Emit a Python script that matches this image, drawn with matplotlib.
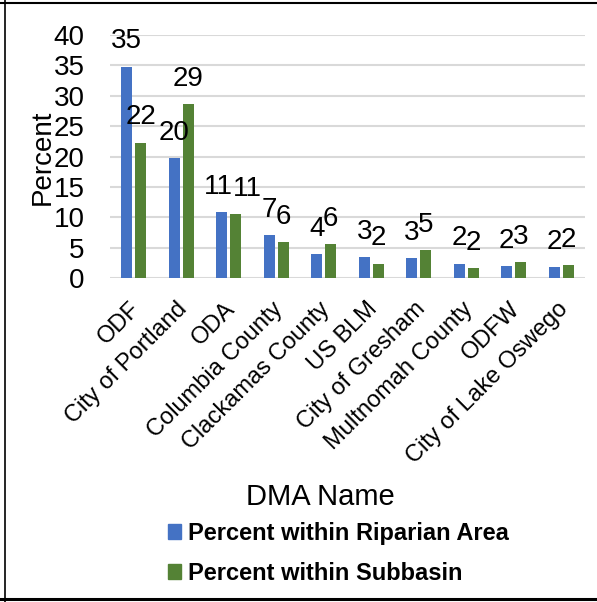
import matplotlib.pyplot as plt
import numpy as np
from matplotlib.lines import Line2D
from matplotlib.patches import Patch
from matplotlib.transforms import ScaledTranslation

plt.rcParams['font.family'] = ['Liberation Sans', 'DejaVu Sans']

dma = ["ODF", "City of Portland", "ODA", "Columbia County", "Clackamas County",
       "US BLM", "City of Gresham", "Multnomah County", "ODFW", "City of Lake Oswego"]
riparian = [34.8, 19.8, 10.9, 7.1, 3.9, 3.4, 3.3, 2.4, 2.0, 1.9]
subbasin = [22.3, 28.7, 10.6, 5.9, 5.6, 2.4, 4.6, 1.6, 2.6, 2.2]

blue = '#4472C4'
green = '#548235'

fig = plt.figure(figsize=(5.97, 6.02), dpi=100)
ax = fig.add_axes([0.184, 0.538, 0.796, 0.404])

x = np.arange(len(dma))
w = 0.23
b1 = ax.bar(x - 0.147, riparian, w, color=blue, zorder=3)
b2 = ax.bar(x + 0.147, subbasin, w, color=green, zorder=3)

# nudge (in px) for labels that would collide, like Excel does
nudge = {(0, 2): -3, (1, 2): 12}
for k, (bars, vals) in enumerate([(b1, riparian), (b2, subbasin)]):
    for i, (r, v) in enumerate(zip(bars, vals)):
        dx = nudge.get((k, i), 0) * 0.72
        ax.annotate(str(int(round(v))), (r.get_x() + r.get_width() / 2, v),
                    xytext=(dx, 13), textcoords='offset points',
                    ha='center', va='baseline', fontsize=20)

ax.set_ylim(0, 40)
ax.set_xlim(-0.5, len(dma) - 0.5)
ax.set_yticks(range(0, 41, 5))
ax.yaxis.grid(True, color='#D9D9D9', linewidth=1.5, zorder=0)
ax.set_axisbelow(True)
for s in ax.spines.values():
    s.set_visible(False)
ax.tick_params(axis='both', length=0)
ax.tick_params(axis='y', labelsize=20, pad=18)
ax.set_xticks(x)
ax.set_xticklabels(dma, rotation=45, ha='right', va='center',
                   rotation_mode='anchor', fontsize=17)
ax.tick_params(axis='x', pad=20)
shift = ScaledTranslation(3 / 100, 0, fig.dpi_scale_trans)
for lab in ax.get_xticklabels():
    lab.set_transform(lab.get_transform() + shift)
ax.set_ylabel('Percent', fontsize=20)
ax.yaxis.set_label_coords(-0.114, 0.498)

fig.text(320 / 597, 1 - 497 / 602, 'DMA Name', ha='center', va='center', fontsize=21)

handles = [Patch(color=blue), Patch(color=green)]
fig.legend(handles, ['Percent within Riparian Area', 'Percent within Subbasin'],
           loc='upper left', bbox_to_anchor=(156 / 597, 1 - 510 / 602),
           frameon=False, borderpad=0, prop={'weight': 'bold', 'size': 17},
           handlelength=0.55, handleheight=0.55, handletextpad=0.3, labelspacing=0.72)

# border lines like a table cell
fig.add_artist(Line2D([0, 1], [1 - 2.5 / 602, 1 - 2.5 / 602], color='black', linewidth=1.5))
fig.add_artist(Line2D([5 / 597, 5 / 597], [0, 1], color='black', linewidth=1.2))
fig.add_artist(Line2D([0, 1], [1 - 598.5 / 602, 1 - 598.5 / 602], color='black', linewidth=2.2))

fig.savefig('out.png', dpi=100)
